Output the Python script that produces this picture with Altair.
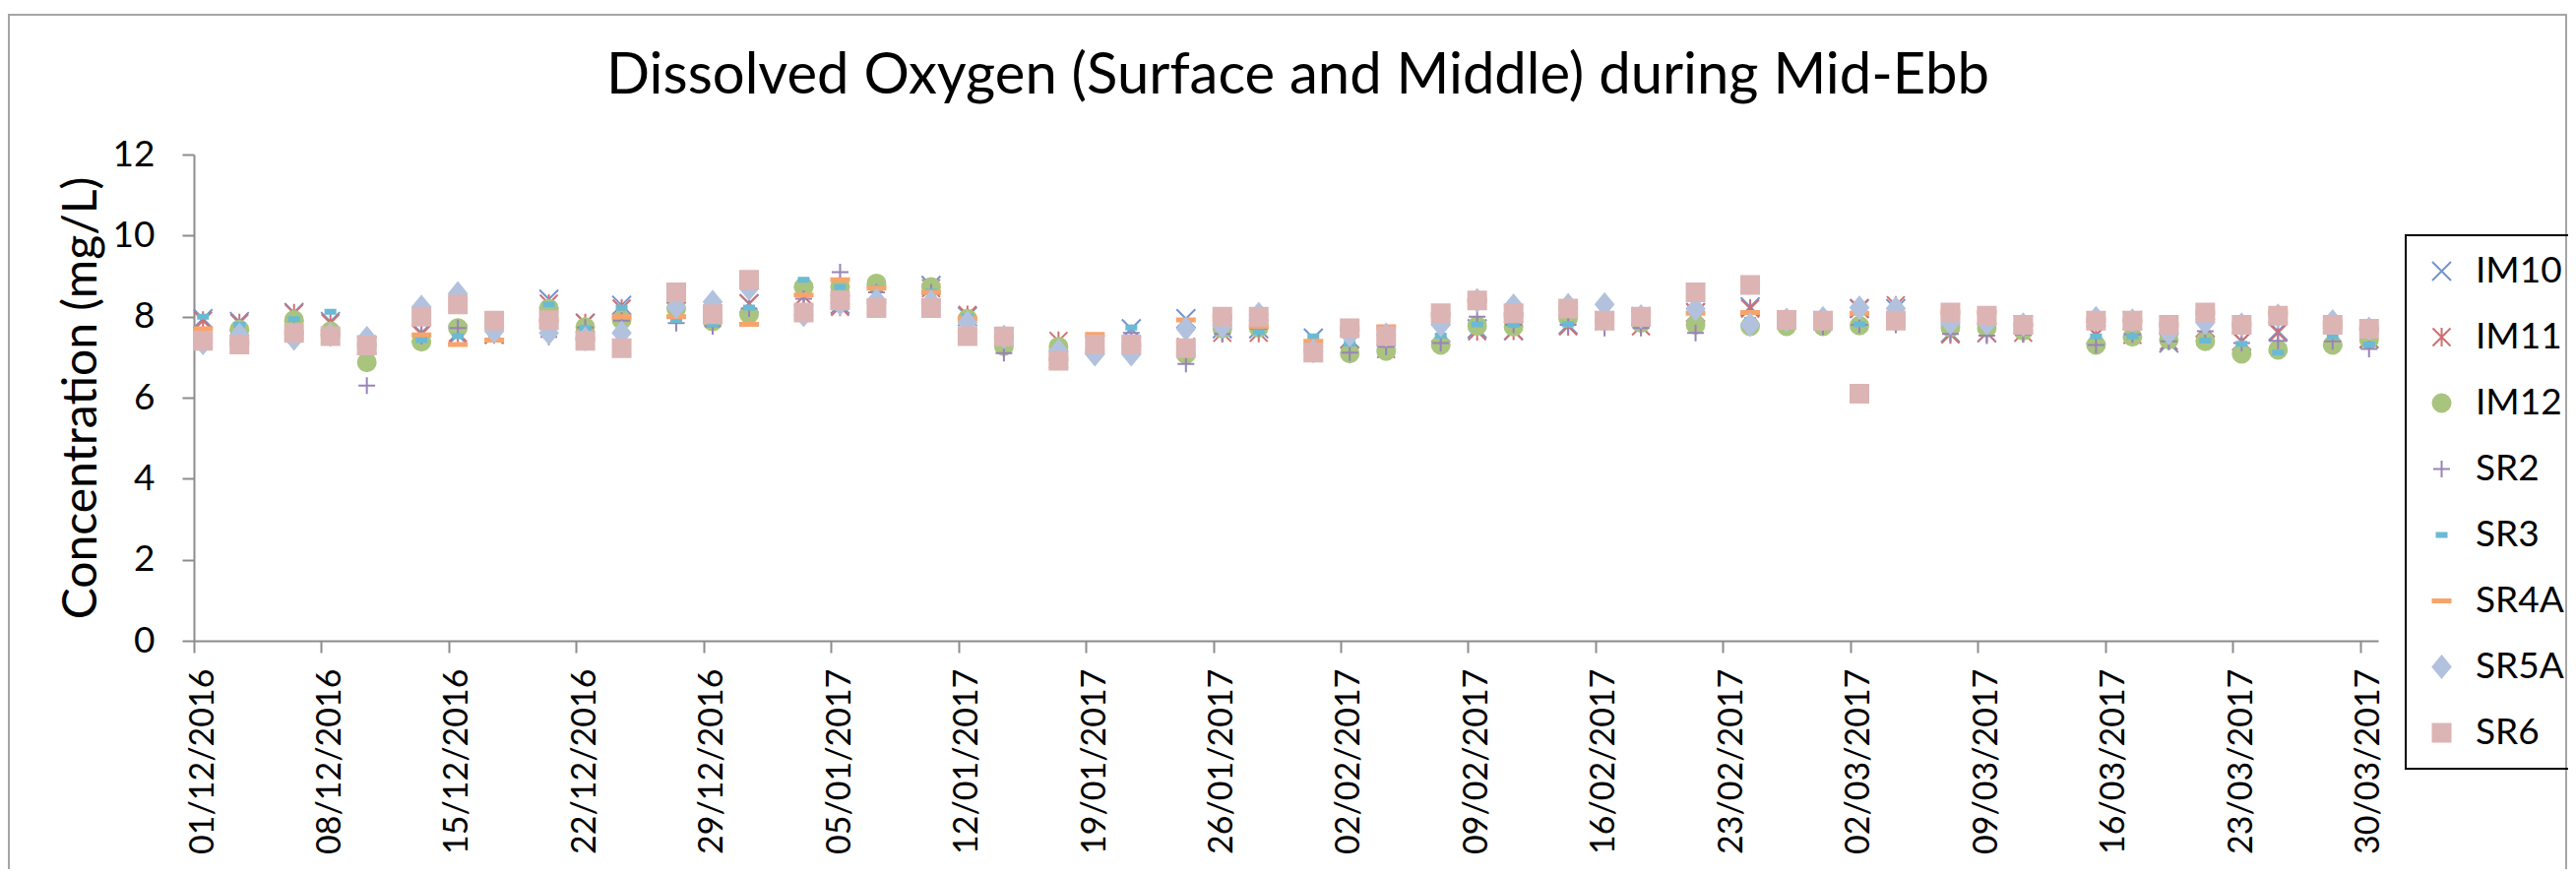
import altair as alt
import pandas as pd

# sampling dates (points sit in the middle of each day slot, as in the original Excel date axis)
dates = [
    "2016-12-01", "2016-12-03", "2016-12-06", "2016-12-08", "2016-12-10", "2016-12-13",
    "2016-12-15", "2016-12-17", "2016-12-20", "2016-12-22", "2016-12-24", "2016-12-27",
    "2016-12-29", "2016-12-31", "2017-01-03", "2017-01-05", "2017-01-07", "2017-01-10",
    "2017-01-12", "2017-01-14", "2017-01-17", "2017-01-19", "2017-01-21", "2017-01-24",
    "2017-01-26", "2017-01-28", "2017-01-31", "2017-02-02", "2017-02-04", "2017-02-07",
    "2017-02-09", "2017-02-11", "2017-02-14", "2017-02-16", "2017-02-18", "2017-02-21",
    "2017-02-24", "2017-02-26", "2017-02-28", "2017-03-02", "2017-03-04", "2017-03-07",
    "2017-03-09", "2017-03-11", "2017-03-15", "2017-03-17", "2017-03-19", "2017-03-21",
    "2017-03-23", "2017-03-25", "2017-03-28", "2017-03-30",
]

IM10 = [7.95, 7.88, 8.10, 7.88, 7.30, 7.60, 7.55, 7.56, 8.43, 7.84, 8.28, 8.55,
        8.06, 8.32, 8.50, 8.30, 8.55, 8.77, 8.00, 7.50, 6.95, 7.30, 7.70, 7.95,
        7.70, 7.70, 7.47, 7.45, 7.50, 7.60, 7.70, 7.65, 7.80, 7.90, 8.00, 8.10,
        8.24, 7.92, 7.90, 8.20, 8.20, 7.60, 7.60, 7.80, 7.55, 7.90, 7.35, 7.72,
        7.39, 7.64, 7.50, 7.45]
IM11 = [7.90, 7.84, 8.08, 7.84, 7.30, 7.56, 7.60, 7.56, 8.32, 7.84, 8.20, 8.55,
        8.06, 8.32, 8.50, 8.24, 8.52, 8.70, 8.04, 7.50, 7.40, 7.30, 7.30, 7.25,
        7.60, 7.60, 7.15, 7.43, 7.20, 7.60, 7.64, 7.65, 7.76, 7.90, 7.76, 8.10,
        8.20, 7.92, 7.90, 8.20, 8.28, 7.56, 7.60, 7.60, 7.55, 7.55, 7.40, 7.72,
        7.39, 7.60, 7.50, 7.45]
IM12 = [7.45, 7.68, 7.92, 7.64, 6.87, 7.38, 7.72, 7.88, 8.20, 7.74, 7.92, 8.20,
        7.88, 8.06, 8.73, 8.73, 8.82, 8.73, 7.95, 7.27, 7.26, 7.18, 7.18, 7.07,
        7.70, 7.72, 7.15, 7.09, 7.15, 7.30, 7.77, 7.75, 7.96, 7.90, 7.84, 7.80,
        7.76, 7.76, 7.76, 7.78, 7.90, 7.73, 7.72, 7.65, 7.30, 7.50, 7.43, 7.39,
        7.08, 7.18, 7.30, 7.43]
SR2 = [7.45, 7.60, 7.65, 7.55, 6.30, 7.52, 7.72, 7.85, 7.50, 7.73, 7.90, 7.84,
       7.76, 8.20, 8.44, 9.10, 8.60, 8.60, 7.81, 7.10, 6.95, 7.30, 7.60, 6.83,
       7.57, 7.70, 7.15, 7.11, 7.26, 7.35, 8.00, 7.80, 7.80, 7.72, 7.72, 7.60,
       7.80, 7.92, 7.75, 7.80, 7.80, 7.57, 7.53, 7.56, 7.30, 7.56, 7.39, 7.64,
       7.35, 7.40, 7.39, 7.20]
SR3 = [8.00, 7.80, 7.94, 8.12, 7.30, 7.42, 7.52, 7.52, 8.30, 7.72, 8.22, 7.92,
       7.81, 8.22, 8.91, 8.73, 8.70, 8.62, 8.00, 7.50, 6.95, 7.30, 7.73, 7.84,
       7.73, 7.62, 7.51, 7.33, 7.50, 7.53, 7.81, 7.80, 7.81, 7.90, 8.00, 8.10,
       7.92, 7.92, 7.90, 7.81, 7.90, 7.80, 7.95, 7.80, 7.51, 7.51, 7.80, 7.41,
       7.33, 7.11, 7.51, 7.31]
SR4A = [7.70, 7.35, 7.60, 7.55, 7.30, 7.55, 7.31, 7.42, 7.90, 7.45, 8.00, 8.00,
        8.06, 7.81, 8.53, 8.91, 8.70, 8.60, 7.95, 7.50, 6.95, 7.56, 7.30, 7.92,
        8.00, 7.76, 7.39, 7.70, 7.75, 8.05, 8.40, 8.05, 8.20, 7.90, 8.10, 8.08,
        8.10, 7.95, 7.95, 8.08, 7.90, 8.10, 8.10, 7.80, 7.90, 7.90, 7.80, 8.10,
        7.80, 8.10, 7.80, 7.70]
SR5A = [7.35, 7.55, 7.46, 7.55, 7.47, 8.24, 8.57, 7.64, 7.60, 7.45, 7.60, 8.24,
        8.36, 8.69, 8.04, 8.32, 8.40, 8.36, 7.85, 7.50, 7.15, 7.07, 7.07, 7.70,
        7.76, 8.06, 7.15, 7.55, 7.55, 7.80, 8.40, 8.27, 8.28, 8.30, 8.00, 8.19,
        7.80, 7.92, 7.96, 8.22, 8.20, 7.85, 7.84, 7.80, 7.96, 7.90, 7.60, 7.85,
        7.80, 8.02, 7.88, 7.70]
SR6 = [7.40, 7.31, 7.60, 7.52, 7.29, 8.00, 8.30, 7.90, 7.91, 7.40, 7.22, 8.60,
       8.06, 8.91, 8.10, 8.40, 8.21, 8.21, 7.52, 7.51, 6.91, 7.31, 7.31, 7.22,
       8.00, 8.00, 7.11, 7.71, 7.52, 8.08, 8.40, 8.08, 8.20, 7.90, 8.00, 8.60,
       8.78, 7.92, 7.90, 6.10, 7.90, 8.10, 8.02, 7.80, 7.90, 7.90, 7.80, 8.10,
       7.80, 8.02, 7.80, 7.70]

stations = ["IM10", "IM11", "IM12", "SR2", "SR3", "SR4A", "SR5A", "SR6"]
series = [IM10, IM11, IM12, SR2, SR3, SR4A, SR5A, SR6]
colors = ["#7394cf", "#d07070", "#a9c47f", "#9883b8", "#6bbad3", "#f7a46c", "#b2c2de", "#dcb4b4"]
shapes = [
    "M-0.95,-0.95L0.95,0.95M-0.95,0.95L0.95,-0.95",                       # x
    "M-0.9,-0.9L0.9,0.9M-0.9,0.9L0.9,-0.9M0,-0.95L0,0.95",                 # asterisk
    "M0.9,0A0.9,0.9,0,1,1,-0.9,0A0.9,0.9,0,1,1,0.9,0Z",                    # circle
    "M-0.85,0L0.85,0M0,-0.85L0,0.85",                                       # plus
    "M-0.5,-0.2L0.5,-0.2L0.5,0.2L-0.5,0.2Z",                               # short dash
    "M-0.9,-0.15L0.9,-0.15L0.9,0.15L-0.9,0.15Z",                           # long dash
    "M0,-1.1L0.9,0L0,1.1L-0.9,0Z",                                          # diamond
    "M-0.9,-0.9L0.9,-0.9L0.9,0.9L-0.9,0.9Z",                               # square
]

tick_dates = [(2016, 12, d) for d in (1, 8, 15, 22, 29)] + \
             [(2017, 1, d) for d in (5, 12, 19, 26)] + \
             [(2017, 2, d) for d in (2, 9, 16, 23)] + \
             [(2017, 3, d) for d in (2, 9, 16, 23, 30)]

rows = []
for s, vals in zip(stations, series):
    for d, v in zip(dates, vals):
        rows.append({"station": s, "date": d + "T12:00:00Z", "value": v})
df = pd.DataFrame(rows)

W, H = 2219, 494
PAD = {"left": 189, "top": 149, "right": 193, "bottom": 232}

x_enc = alt.X(
    "date:T",
    scale=alt.Scale(
        type="utc",
        domain=[alt.DateTime(year=2016, month=12, date=1, utc=True),
                alt.DateTime(year=2017, month=3, date=31, utc=True)],
        nice=False,
    ),
    axis=alt.Axis(
        values=[alt.DateTime(year=y, month=m, date=d, utc=True) for (y, m, d) in tick_dates],
        labelExpr="utcFormat(datum.value, '%d/%m/%Y')",
        labelAngle=270, labelFontSize=34, labelLimit=600,
        labelPadding=16, labelOffset=9, labelOverlap=False, title=None,
    ),
)
y_enc = alt.Y(
    "value:Q",
    scale=alt.Scale(domain=[0, 12], nice=False),
    axis=alt.Axis(
        values=[0, 2, 4, 6, 8, 10, 12], labelFontSize=37, labelPadding=28,
        title="Concentration (mg/L)", titleFontSize=48, titleAngle=270,
        titleX=-114, titleY=H / 2, titleAlign="center", titleBaseline="middle",
    ),
)

leg = alt.Legend(title=None, orient="none", legendX=2247, legendY=82)
points = alt.Chart(df).mark_point(filled=True, opacity=1, strokeWidth=2, size=400).encode(
    x=x_enc,
    y=y_enc,
    color=alt.Color("station:N", scale=alt.Scale(domain=stations, range=colors), legend=leg),
    stroke=alt.Stroke("station:N", scale=alt.Scale(domain=stations, range=colors), legend=leg),
    shape=alt.Shape("station:N", scale=alt.Scale(domain=stations, range=shapes), legend=leg),
)

frame = alt.Chart(alt.Data(values=[{"f": 1}])).mark_rect(
    filled=False, stroke="#a6a6a6", strokeWidth=2
).encode(
    x=alt.value(-188), x2=alt.value(W + PAD["right"] - 2),
    y=alt.value(-142), y2=alt.value(H + PAD["bottom"] + 20),
)

chart = alt.layer(frame, points).properties(
    width=W, height=H,
    autosize=alt.AutoSizeParams(type="none"),
    padding=PAD,
    title=alt.TitleParams(
        text="Dissolved Oxygen (Surface and Middle) during Mid-Ebb",
        font="Lato", fontSize=58, fontWeight="normal", color="black",
        anchor="middle", baseline="alphabetic", offset=-139, dx=12,
    ),
).configure_view(strokeWidth=0).configure_axis(
    domainColor="#8c8c8c", domainWidth=2, tickColor="#8c8c8c", tickWidth=2, tickSize=12,
    grid=False, labelFont="Lato", labelColor="black", titleFont="Lato",
    titleColor="black", titleFontWeight="normal",
).configure_legend(
    labelFont="Lato", labelFontSize=37, labelColor="black", symbolSize=400,
    symbolStrokeWidth=2, padding=18, rowPadding=29, labelOffset=16,
    strokeColor="black", strokeWidth=2,
)

chart.save("out.html", embed_options={"renderer": "svg", "actions": False})
